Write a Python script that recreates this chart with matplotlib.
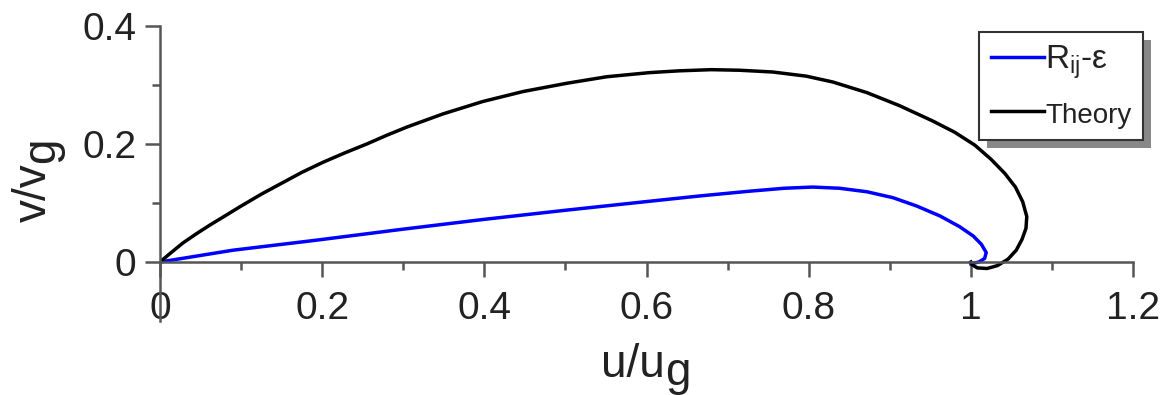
import matplotlib
matplotlib.use("Agg")
import matplotlib.pyplot as plt
from matplotlib.patches import Rectangle

plt.rcParams['font.family'] = ['Liberation Sans', 'DejaVu Sans']
plt.rcParams['mathtext.fontset'] = 'custom'
plt.rcParams['mathtext.rm'] = 'Liberation Sans'
plt.rcParams['mathtext.it'] = 'Liberation Sans:italic'

# ---- data ----
theory_u = [0.0, 0.012, 0.028, 0.045, 0.062, 0.080, 0.099, 0.125, 0.152, 0.175,
            0.201, 0.228, 0.255, 0.280, 0.305, 0.349, 0.398, 0.448, 0.502, 0.551,
            0.604, 0.640, 0.680, 0.715, 0.756, 0.797, 0.830, 0.872, 0.912, 0.953,
            0.980, 1.005, 1.025, 1.042, 1.055, 1.064, 1.069, 1.068, 1.063, 1.056,
            1.046, 1.033, 1.020, 1.008, 1.002, 1.000]
theory_v = [0.0, 0.014, 0.032, 0.048, 0.063, 0.078, 0.094, 0.115, 0.135, 0.152,
            0.169, 0.185, 0.200, 0.215, 0.229, 0.251, 0.272, 0.289, 0.303, 0.314,
            0.321, 0.324, 0.326, 0.325, 0.322, 0.315, 0.305, 0.287, 0.265, 0.239,
            0.220, 0.198, 0.174, 0.150, 0.127, 0.102, 0.077, 0.057, 0.038, 0.020,
            0.005, -0.006, -0.011, -0.010, -0.005, 0.0]

rij_u = [0.0, 0.045, 0.090, 0.193, 0.296, 0.398, 0.502, 0.604, 0.666, 0.727,
         0.770, 0.805, 0.838, 0.872, 0.904, 0.933, 0.962, 0.986, 1.003, 1.013,
         1.019, 1.017, 1.010, 1.000]
rij_v = [0.0, 0.010, 0.020, 0.037, 0.055, 0.072, 0.088, 0.103, 0.112, 0.120,
         0.125, 0.127, 0.125, 0.119, 0.109, 0.095, 0.078, 0.060, 0.044, 0.030,
         0.016, 0.006, 0.000, -0.003]

series_labels = ['R$_{\\mathregular{ij}}$-ε', 'Theory']
x_major = [0, 0.2, 0.4, 0.6, 0.8, 1.0, 1.2]
x_major_labels = ['0', '0.2', '0.4', '0.6', '0.8', '1', '1.2']
x_minor = [0.1, 0.3, 0.5, 0.7, 0.9, 1.1]
y_major = [0, 0.2, 0.4]
y_major_labels = ['0', '0.2', '0.4']
y_minor = [0.1, 0.3]

W, H = 1164, 395
fig = plt.figure(figsize=(W / 100, H / 100), dpi=100)
ax = fig.add_axes([160 / W, 74 / H, 973 / W, 295 / H])

l1, = ax.plot(rij_u, rij_v, color='#0000ff', lw=2.5, label=series_labels[0])
l2, = ax.plot(theory_u, theory_v, color='black', lw=2.5, label=series_labels[1])

ax.set_xlim(0, 1.2)
ax.set_ylim(-0.1, 0.4)

spine_col = '#555555'
txt_col = '#222222'
for s in ['top', 'right']:
    ax.spines[s].set_visible(False)
ax.spines['bottom'].set_position(('data', 0))
ax.spines['left'].set_position(('data', 0))
for s in ['bottom', 'left']:
    ax.spines[s].set_color(spine_col)
    ax.spines[s].set_linewidth(1.8)

ax.set_xticks(x_major)
ax.set_xticklabels(x_major_labels)
ax.set_xticks(x_minor, minor=True)
ax.set_yticks(y_major)
ax.set_yticklabels(y_major_labels)
ax.set_yticks(y_minor, minor=True)

ax.tick_params(axis='both', which='major', direction='out', length=11, width=1.8,
               color=spine_col, labelsize=28, labelcolor=txt_col)
ax.tick_params(axis='both', which='minor', direction='out', length=6, width=1.8,
               color=spine_col)
ax.tick_params(axis='x', which='major', pad=10)
ax.tick_params(axis='y', which='major', pad=6)

# axis labels with full-size, lowered subscript g
ut = fig.text(601 / W, 1 - 377 / H, 'u/u', fontsize=33, color=txt_col,
              ha='left', va='baseline')
ax.annotate('g', xy=(1, 0), xycoords=ut, xytext=(0.5, -6), textcoords='offset points',
            ha='left', va='bottom', fontsize=33, color=txt_col, annotation_clip=False)
vt = fig.text(46 / W, 1 - 222 / H, 'v/v', fontsize=33, color=txt_col,
              rotation=90, rotation_mode='anchor', ha='left', va='baseline')
ax.annotate('g', xy=(1, 1), xycoords=vt, xytext=(6, 0.5), textcoords='offset points',
            ha='right', va='bottom', rotation=90, fontsize=33, color=txt_col,
            annotation_clip=False)

leg = ax.legend(handles=[l1, l2], loc='upper right', bbox_to_anchor=(1.0103, 0.98),
                fontsize=24, frameon=True, fancybox=False, shadow=False, framealpha=1,
                handlelength=1.6, handletextpad=0.02, borderpad=0.35,
                labelspacing=0.55, borderaxespad=0)
leg.get_frame().set_edgecolor('#333333')
leg.get_frame().set_facecolor('white')
leg.get_frame().set_linewidth(1.5)
leg.set_zorder(6)
leg.get_texts()[1].set_fontsize(20)
for t in leg.get_texts():
    t.set_color(txt_col)
for h in leg.legend_handles:
    h.set_linewidth(2.5)

fig.canvas.draw()
bb = leg.get_window_extent()
shadow = Rectangle((bb.x0 + 8, bb.y0 - 8), bb.width, bb.height, transform=None,
                   facecolor='#888888', edgecolor='none', zorder=5, clip_on=False)
ax.add_artist(shadow)

fig.savefig('out.png', dpi=100)
